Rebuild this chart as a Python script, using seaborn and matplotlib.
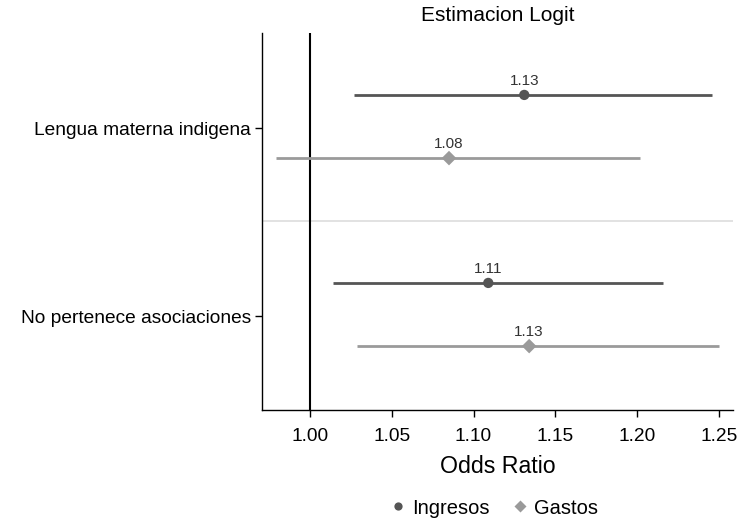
import matplotlib.pyplot as plt
import numpy as np
import pandas as pd
import seaborn as sns

# =====================================================
# DATA
# =====================================================

variables = ["Lengua materna indigena", "No pertenece asociaciones"]
series = ["Ingresos", "Gastos"]

odds_ingresos = [1.131, 1.109]
low_ingresos = [1.027, 1.014]
high_ingresos = [1.246, 1.216]

odds_gastos = [1.085, 1.134]
low_gastos = [0.979, 1.029]
high_gastos = [1.202, 1.250]

labels_ingresos = ["1.13", "1.11"]
labels_gastos = ["1.08", "1.13"]

# =====================================================
# TABLE
# =====================================================

offsets = {"Ingresos": -0.176, "Gastos": 0.160}

rows = []
for i, var in enumerate(variables):
    rows.append(["Ingresos", var, i, odds_ingresos[i], low_ingresos[i],
                 high_ingresos[i], labels_ingresos[i]])
    rows.append(["Gastos", var, i, odds_gastos[i], low_gastos[i],
                 high_gastos[i], labels_gastos[i]])

df = pd.DataFrame(rows, columns=["serie", "variable", "idx", "odds",
                                 "low", "high", "label"])
df["ypos"] = df["idx"] + df["serie"].map(offsets)

colors = {"Ingresos": "#555555", "Gastos": "#9a9a9a"}
markers = {"Ingresos": "o", "Gastos": "D"}

# =====================================================
# PLOT
# =====================================================

sns.set_style("ticks")
plt.rcParams["font.family"] = ["Liberation Sans", "DejaVu Sans"]
plt.rcParams["text.color"] = "black"
plt.rcParams["axes.labelcolor"] = "black"

fig = plt.figure(figsize=(7.41, 5.25), dpi=100)
ax = fig.add_axes([0.3536, 0.219, 0.6354, 0.718])

ax.axvline(1.0, color="black", lw=1.5, zorder=1)
ax.axhline(0.495, color="#dddddd", lw=1.2, zorder=0)

for s in series:
    d = df[df["serie"] == s]
    ax.hlines(d["ypos"], d["low"], d["high"], color=colors[s], lw=2, zorder=2)
    for _, r in d.iterrows():
        ax.annotate(r["label"], (r["odds"], r["ypos"]), xytext=(0, 5),
                    textcoords="offset points", ha="center", va="bottom",
                    fontsize=11, color="#333333")

sns.scatterplot(
    data=df,
    x="odds",
    y="ypos",
    hue="serie",
    style="serie",
    palette=colors,
    markers=markers,
    hue_order=series,
    style_order=series,
    s=55,
    edgecolor="none",
    zorder=3,
    ax=ax
)

ax.set_xlim(0.9707, 1.2585)
ax.set_ylim(1.5, -0.505)
ax.set_xticks([1.00, 1.05, 1.10, 1.15, 1.20, 1.25])
ax.set_xticklabels(["1.00", "1.05", "1.10", "1.15", "1.20", "1.25"])
ax.set_yticks(range(len(variables)))
ax.set_yticklabels(variables)
ax.tick_params(axis="both", labelsize=13.8, length=5, width=1, color="black",
               labelcolor="black")
ax.tick_params(axis="x", pad=8)
ax.tick_params(axis="y", pad=3)

for side in ["top", "right"]:
    ax.spines[side].set_visible(False)
for side in ["left", "bottom"]:
    ax.spines[side].set_color("black")
    ax.spines[side].set_linewidth(1)

ax.set_ylabel("")
ax.set_xlabel("Odds Ratio", fontsize=16.7, labelpad=7, color="black")
ax.set_title("Estimacion Logit", fontsize=15, pad=9, color="black")

handles, lbls = ax.get_legend_handles_labels()
ax.legend(handles, lbls, loc="center", bbox_to_anchor=(0.49, -0.26),
          ncol=2, frameon=False, fontsize=14.5, handletextpad=0.2,
          handlelength=1.0, columnspacing=1.0, markerscale=0.8)

fig.savefig("out.png", dpi=100)
plt.close()
